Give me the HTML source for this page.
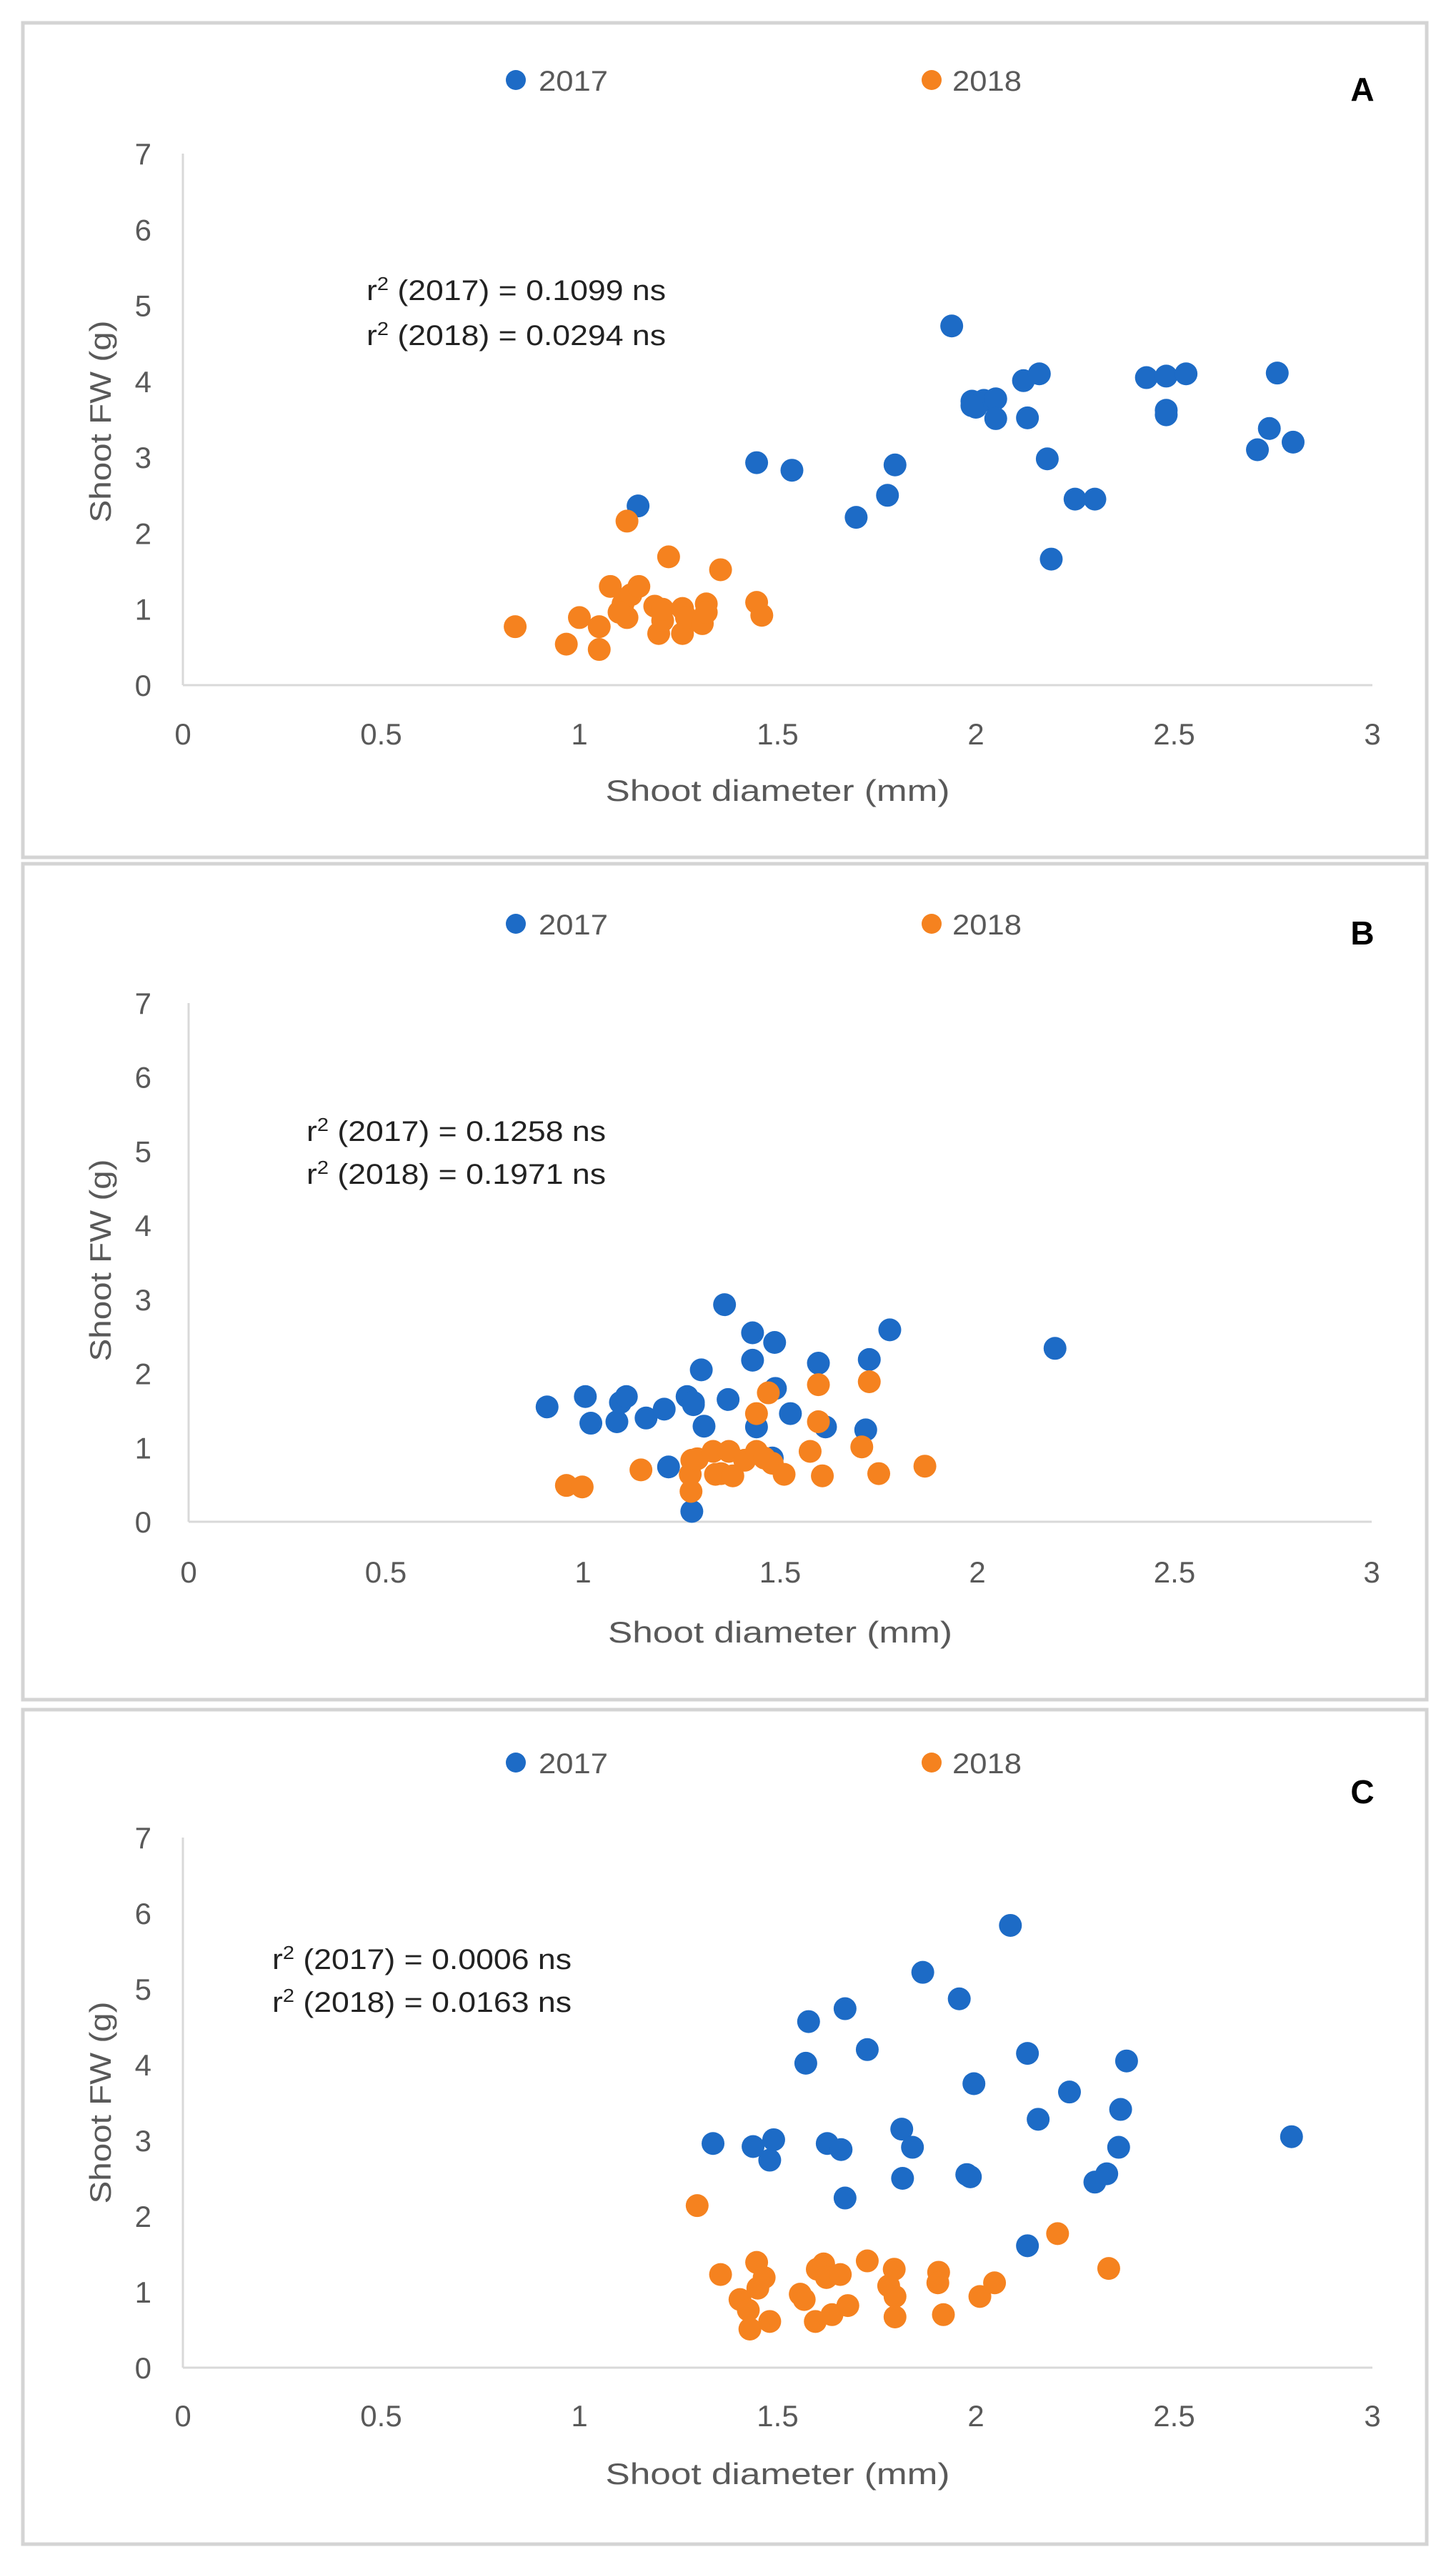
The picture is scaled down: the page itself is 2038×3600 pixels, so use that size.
<!DOCTYPE html>
<html><head><meta charset="utf-8"><style>
html,body{margin:0;padding:0;background:#fff;}
svg{display:block;}
text{font-family:"Liberation Sans",sans-serif;}
</style></head><body>
<svg id="fig" width="2038" height="3600" viewBox="0 0 2038 3600" xmlns="http://www.w3.org/2000/svg">
<rect x="0" y="0" width="2038" height="3600" fill="#fff"/>
</svg>
<script>
// X (shoot diameter, mm) and Y (shoot FW, g) values per panel and year
const xTicks = [0, 0.5, 1, 1.5, 2, 2.5, 3];
const yTicks = [0, 1, 2, 3, 4, 5, 6, 7];
const xTickLabels = ["0", "0.5", "1", "1.5", "2", "2.5", "3"];
const yTickLabels = ["0", "1", "2", "3", "4", "5", "6", "7"];
const seriesNames = ["2017", "2018"];
const panelLetters = ["A", "B", "C"];
const r2Lines = [
  ["0.1099 ns", "0.0294 ns"],
  ["0.1258 ns", "0.1971 ns"],
  ["0.0006 ns", "0.0163 ns"]
];

const aX2017 = [1.148,1.447,1.536,1.698,1.777,1.796,1.939,1.99,2.00,2.02,2.05,2.05,1.99,2.12,2.16,2.13,2.18,2.19,2.25,2.30,2.43,2.48,2.53,2.48,2.48,2.76,2.74,2.71,2.80];
const aY2017 = [2.36,2.93,2.83,2.21,2.50,2.90,4.73,3.74,3.66,3.75,3.77,3.51,3.68,4.01,4.10,3.52,2.98,1.66,2.45,2.45,4.05,4.07,4.10,3.62,3.56,4.11,3.38,3.10,3.20];
const aX2018 = [0.838,0.967,1.00,1.05,1.05,1.078,1.12,1.11,1.12,1.13,1.15,1.10,1.225,1.19,1.20,1.21,1.21,1.26,1.26,1.27,1.31,1.32,1.32,1.356,1.447,1.46];
const aY2018 = [0.77,0.54,0.89,0.77,0.47,1.30,2.16,1.07,0.89,1.19,1.30,0.96,1.69,1.04,0.68,0.85,1.00,1.01,0.68,0.89,0.81,1.07,0.96,1.52,1.09,0.92];

const bX2017 = [0.909,1.006,1.02,1.086,1.095,1.11,1.16,1.206,1.217,1.264,1.28,1.28,1.276,1.30,1.307,1.359,1.368,1.43,1.43,1.44,1.486,1.488,1.526,1.597,1.615,1.48,1.726,1.717,1.778,2.197];
const bY2017 = [1.55,1.69,1.33,1.35,1.61,1.69,1.40,1.52,0.74,1.69,1.58,1.61,0.14,2.05,1.29,2.93,1.65,2.55,2.18,1.28,2.42,1.80,1.46,2.14,1.28,0.86,2.19,1.24,2.59,2.34];
const bX2018 = [0.958,0.998,1.147,1.276,1.272,1.274,1.29,1.33,1.336,1.35,1.37,1.38,1.41,1.44,1.46,1.48,1.51,1.44,1.47,1.576,1.597,1.597,1.607,1.707,1.726,1.75,1.867];
const bY2018 = [0.49,0.47,0.70,0.83,0.64,0.41,0.85,0.95,0.64,0.65,0.95,0.62,0.83,0.95,0.86,0.79,0.64,1.46,1.74,0.95,1.85,1.35,0.62,1.01,1.89,0.65,0.75];

const cX2017 = [1.337,1.438,1.48,1.49,1.571,1.578,1.625,1.66,1.67,1.67,1.726,1.813,1.815,1.84,1.866,1.958,1.977,1.986,1.995,2.087,2.13,2.13,2.157,2.236,2.30,2.33,2.36,2.365,2.38,2.796];
const cY2017 = [2.96,2.92,2.74,3.01,4.02,4.57,2.96,2.88,4.74,2.24,4.20,3.15,2.50,2.91,5.22,4.87,2.55,2.52,3.75,5.84,4.15,1.61,3.28,3.64,2.45,2.56,2.91,3.41,4.05,3.05];
const cX2018 = [1.297,1.356,1.405,1.426,1.43,1.447,1.45,1.466,1.48,1.557,1.567,1.595,1.60,1.616,1.623,1.637,1.658,1.677,1.726,1.78,1.794,1.796,1.796,1.906,1.904,1.918,2.01,2.047,2.206,2.335];
const cY2018 = [2.14,1.23,0.90,0.76,0.51,1.39,1.05,1.19,0.61,0.97,0.90,0.61,1.30,1.37,1.19,0.70,1.23,0.82,1.41,1.08,1.30,0.94,0.67,1.26,1.12,0.70,0.94,1.12,1.77,1.31];

const NS = "http://www.w3.org/2000/svg";
const svg = document.getElementById("fig");
const BLUE = "#1d6bc6", ORANGE = "#f5821f", GRAY = "#595959";

function mk(tag, attrs, parent) {
  const e = document.createElementNS(NS, tag);
  for (const k in attrs) e.setAttribute(k, attrs[k]);
  (parent || svg).appendChild(e);
  return e;
}

const layouts = [
  {box:[32,32,1997,1200], x0:256, x1:1921, y0:959, y1:215, legY:112, letterY:125, r2x:513, r2y:[406,469], xlabY:1027, xtitY:1106, ytitY:590},
  {box:[32,1209,1997,2379], x0:264, x1:1920, y0:2130, y1:1404, legY:1293, letterY:1306, r2x:429, r2y:[1583,1643], xlabY:2200, xtitY:2284, ytitY:1764},
  {box:[32,2393,1997,3561], x0:256, x1:1921, y0:3314, y1:2572, legY:2467, letterY:2508, r2x:381, r2y:[2742,2802], xlabY:3381, xtitY:3462, ytitY:2943}
];
const data = [[aX2017,aY2017,aX2018,aY2018],[bX2017,bY2017,bX2018,bY2018],[cX2017,cY2017,cX2018,cY2018]];

layouts.forEach((L, p) => {
  const g = mk("g", {});
  
  
  const sx = v => L.x0 + (v - 0) / 3 * (L.x1 - L.x0);
  const sy = v => L.y0 - (v - 0) / 7 * (L.y0 - L.y1);

  const box = mk("rect", {x:L.box[0], y:L.box[1], width:L.box[2]-L.box[0], height:L.box[3]-L.box[1], fill:"none", stroke:"#d4d4d4", "stroke-width":5}, g);
  
  

  const ya = mk("line", {x1:sx(0), x2:sx(0), y1:sy(7), y2:sy(0), stroke:"#d9d9d9", "stroke-width":3}, g);
  
  
  const xa = mk("line", {x1:sx(0), x2:sx(3), y1:sy(0), y2:sy(0), stroke:"#d9d9d9", "stroke-width":3}, g);
  
  

  yTicks.forEach((t, i) => {
    const tx = mk("text", {x:212, y:sy(t)+15, "text-anchor":"end", "font-size":42, fill:GRAY}, g);
    tx.textContent = yTickLabels[i];
    
    
  });
  xTicks.forEach((t, i) => {
    const tx = mk("text", {x:sx(t), y:L.xlabY+15, "text-anchor":"middle", "font-size":42, fill:GRAY}, g);
    tx.textContent = xTickLabels[i];
    
    
  });

  const xt = mk("text", {x:(sx(1.5)), y:L.xtitY+15, "text-anchor":"middle", "font-size":42, fill:GRAY, textLength:482, lengthAdjust:"spacingAndGlyphs"}, g);
  xt.textContent = "Shoot diameter (mm)";
  
  

  const yt = mk("text", {x:0, y:0, "text-anchor":"middle", "font-size":42, fill:GRAY, textLength:283, lengthAdjust:"spacingAndGlyphs", transform:`translate(155,${L.ytitY}) rotate(-90)`}, g);
  yt.textContent = "Shoot FW (g)";
  
  

  [[722,754,BLUE],[1304,1333,ORANGE]].forEach((lg, s) => {
    const d = mk("circle", {cx:lg[0], cy:L.legY, r:14, fill:lg[2]}, g);
    
    
    const t = mk("text", {x:lg[1], y:L.legY+15, "font-size":40, fill:GRAY, textLength:97, lengthAdjust:"spacingAndGlyphs"}, g);
    t.textContent = seriesNames[s];
    
    
  });

  const lt = mk("text", {x:1907, y:L.letterY+16, "text-anchor":"middle", "font-size":46, "font-weight":"bold", fill:"#000"}, g);
  lt.textContent = panelLetters[p];
  
  

  seriesNames.forEach((s, i) => {
    const t = mk("text", {x:L.r2x, y:L.r2y[i]+14, "font-size":40, fill:"#222", textLength:419, lengthAdjust:"spacingAndGlyphs"}, g);
    t.innerHTML = 'r<tspan dy="-14" font-size="26">2</tspan><tspan dy="14"> (' + s + ') = ' + r2Lines[p][i] + '</tspan>';
    
    
  });

  const D = data[p];
  [[D[0],D[1],BLUE,"2017"],[D[2],D[3],ORANGE,"2018"]].forEach(ser => {
    const sg = mk("g", {}, g);
    
    
    ser[0].forEach((xv, i) => {
      const c = mk("circle", {cx:sx(xv), cy:sy(ser[1][i]), r:16, fill:ser[2]}, sg);
      
      
    });
  });
});
</script>
</body></html>
